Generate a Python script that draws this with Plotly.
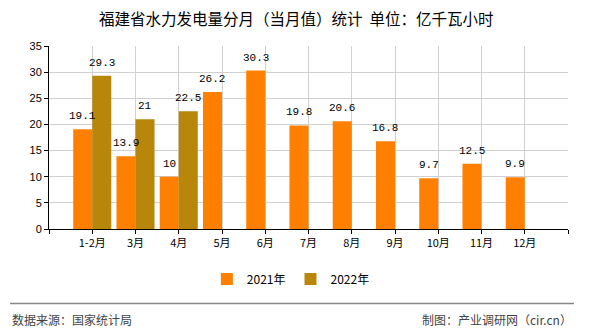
import plotly.graph_objects as go

categories = ["1-2月", "3月", "4月", "5月", "6月", "7月", "8月", "9月", "10月", "11月", "12月"]
values_2021 = [19.1, 13.9, 10, 26.2, 30.3, 19.8, 20.6, 16.8, 9.7, 12.5, 9.9]
values_2022 = [29.3, 21, 22.5, None, None, None, None, None, None, None, None]
series_names = ["2021年", "2022年"]
colors = ["#FF8000", "#B8860B"]

xpos = list(range(1, len(categories) + 1))
BARGAP = 0.12
half = (1 - BARGAP) / 4  # center offset of each bar in a group of two

fig = go.Figure()
fig.add_trace(go.Bar(x=xpos, y=values_2021, name=series_names[0], marker_color=colors[0],
                     marker_line_width=0))
fig.add_trace(go.Bar(x=xpos, y=values_2022, name=series_names[1], marker_color=colors[1],
                     marker_line_width=0))

annotations = []
for i, v in enumerate(values_2021):
    if v is not None:
        annotations.append(dict(x=xpos[i] - half, y=v, text=f"{v:g}", showarrow=False,
                                yshift=13, font=dict(family="Liberation Mono", size=11, color="#000")))
for i, v in enumerate(values_2022):
    if v is not None:
        annotations.append(dict(x=xpos[i] + half, y=v, text=f"{v:g}", showarrow=False,
                                yshift=13, font=dict(family="Liberation Mono", size=11, color="#000")))

annotations.append(dict(xref="paper", yref="paper", x=-0.075, y=-0.495, xanchor="left", yanchor="middle",
                        text="数据来源：国家统计局", showarrow=False,
                        font=dict(family="Noto Sans CJK SC", size=12, color="#444")))
annotations.append(dict(xref="paper", yref="paper", x=1.0116, y=-0.495, xanchor="right", yanchor="middle",
                        text="制图：产业调研网（cir.cn）", showarrow=False,
                        font=dict(family="Noto Sans CJK SC", size=12, color="#444")))

fig.update_layout(
    width=590, height=330,
    margin=dict(l=49, r=22, t=46, b=101),
    paper_bgcolor="white", plot_bgcolor="white",
    barmode="group", bargap=BARGAP, bargroupgap=0,
    title=dict(text="福建省水力发电量分月（当月值）统计  单位：亿千瓦小时", x=0.502, xanchor="center",
               y=0.94, yanchor="middle",
               font=dict(family="Noto Sans CJK SC", size=15.5, color="#000")),
    font=dict(family="Noto Sans CJK SC", size=11, color="#000"),
    showlegend=True,
    legend=dict(orientation="h", x=0.466, y=-0.273, xanchor="center", yanchor="middle",
                font=dict(family="Noto Sans CJK SC", size=12, color="#000"),
                itemwidth=30, tracegroupgap=0),
    annotations=annotations,
    shapes=[dict(type="line", xref="paper", yref="paper", x0=-0.075, x1=1.0116, y0=-0.407, y1=-0.407,
                 line=dict(color="#888", width=1.5))],
)
fig.update_xaxes(range=[0, len(categories) + 1],
                 tickmode="array", tickvals=list(range(0, len(categories) + 2)),
                 ticktext=[""] + categories + [""],
                 showgrid=True, gridcolor="#d0d0d0", gridwidth=1,
                 showline=True, linecolor="#000", linewidth=1,
                 ticks="outside", ticklen=4, tickcolor="#000",
                 tickfont=dict(family="Noto Sans CJK SC", size=11, color="#000"),
                 zeroline=False)
fig.update_yaxes(range=[0, 35], dtick=5, tick0=0,
                 showgrid=True, gridcolor="#d0d0d0", gridwidth=1,
                 showline=True, linecolor="#000", linewidth=1,
                 ticks="outside", ticklen=4, tickcolor="#000",
                 tickfont=dict(family="Liberation Sans", size=11, color="#000"),
                 zeroline=False)

fig.write_html("out.html")
